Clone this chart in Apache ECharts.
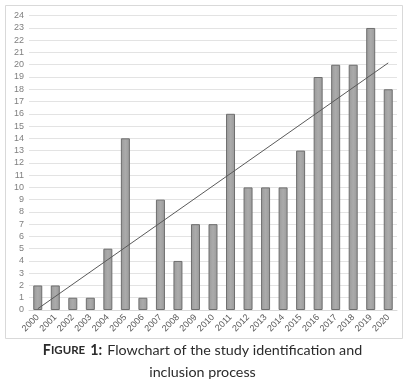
<!DOCTYPE html>
<html><head><meta charset="utf-8">
<script src="https://cdn.jsdelivr.net/npm/echarts@6/dist/echarts.min.js"></script>
<style>html,body{margin:0;padding:0;background:#fff}#c{width:405px;height:380px}</style>
</head><body><div id="c"></div>
<script>
const years = ['2000','2001','2002','2003','2004','2005','2006','2007','2008','2009','2010','2011','2012','2013','2014','2015','2016','2017','2018','2019','2020'];
const counts = [2,2,1,1,5,14,1,9,4,7,7,16,10,10,10,13,19,20,20,23,18];
const trendEnds = [0.1, 20.15];
const yTicks = {min: 0, max: 24, step: 1};

const chart = echarts.init(document.getElementById('c'), null, {renderer: 'canvas'});
chart.setOption({
  animation: false,
  backgroundColor: '#fff',
  title: {
    text: '{b|F}{s|IGURE} {b|1:} {n|Flowchart of the study identification and}\n{n|inclusion process}',
    left: 'center', top: 334,
    textStyle: {
      fontWeight: 'normal',
      rich: {
        b: {fontFamily: 'Lato', fontWeight: 'bold', fontSize: 14.3, color: '#2b2b2b', lineHeight: 22},
        s: {fontFamily: 'Lato', fontWeight: 'bold', fontSize: 11.5, color: '#2b2b2b', lineHeight: 22},
        n: {fontFamily: 'Lato', fontWeight: 'normal', fontSize: 14.3, color: '#2b2b2b', lineHeight: 22}
      }
    }
  },
  graphic: [{
    type: 'rect', silent: true, z: -1,
    shape: {x: 5.5, y: 5.5, width: 397, height: 333},
    style: {fill: 'none', stroke: '#d9d9d9', lineWidth: 1}
  }],
  grid: {left: 29, right: 8, top: 15.7, bottom: 70, containLabel: false},
  xAxis: {
    type: 'category', data: years,
    axisLine: {show: true, lineStyle: {color: '#d9d9d9'}},
    axisTick: {show: false},
    axisLabel: {rotate: 45, fontSize: 9, color: '#595959', fontFamily: 'Liberation Sans', margin: 6, interval: 0}
  },
  yAxis: {
    type: 'value', min: yTicks.min, max: yTicks.max, interval: yTicks.step,
    axisLine: {show: false}, axisTick: {show: false},
    splitLine: {lineStyle: {color: '#e3e3e3', width: 1}},
    axisLabel: {fontSize: 9, color: '#7f7f7f', fontFamily: 'Liberation Sans', margin: 5}
  },
  series: [{
    type: 'bar', data: counts, barWidth: 9,
    itemStyle: {
      color: {type: 'linear', x: 0, y: 0, x2: 1, y2: 0, colorStops: [
        {offset: 0, color: '#9a9a9a'}, {offset: 0.5, color: '#ababab'}, {offset: 1, color: '#9a9a9a'}]},
      borderColor: '#6e6e6e', borderWidth: 1
    }
  }, {
    type: 'line', data: [[years[0], trendEnds[0]], [years[years.length - 1], trendEnds[1]]],
    symbol: 'none', lineStyle: {color: '#5a5a5a', width: 1}, z: 5
  }]
});
</script></body></html>
